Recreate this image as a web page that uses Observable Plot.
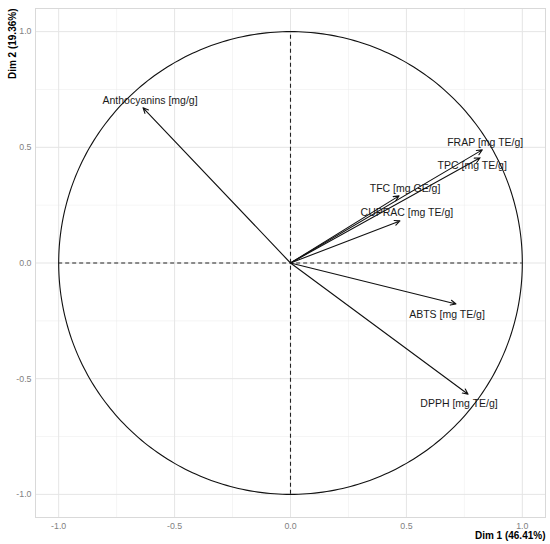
<!DOCTYPE html>
<html><head><meta charset="utf-8">
<script src="https://cdn.jsdelivr.net/npm/d3@7"></script>
<script src="https://cdn.jsdelivr.net/npm/@observablehq/plot@0.6"></script>
<style>body{margin:0;background:#fff;font-family:"Liberation Sans",Arial,sans-serif}</style>
</head><body><div id="chart"></div>
<script>
const variables = ["Anthocyanins [mg/g]","FRAP [mg TE/g]","TPC [mg TE/g]","TFC [mg GE/g]","CUPRAC [mg TE/g]","ABTS [mg TE/g]","DPPH [mg TE/g]"];
const dim1 = [-0.636, 0.827, 0.818, 0.468, 0.472, 0.714, 0.766];
const dim2 = [0.671, 0.489, 0.455, 0.290, 0.182, -0.177, -0.567];
const labelDim1 = [-0.606, 0.84, 0.784, 0.494, 0.502, 0.675, 0.727];
const labelDim2 = [0.701, 0.519, 0.42, 0.32, 0.216, -0.221, -0.606];
const majorTicks = [-1, -0.5, 0, 0.5, 1];
const minorTicks = [-0.75, -0.25, 0.25, 0.75];
const xTitle = "Dim 1 (46.41%)";
const yTitle = "Dim 2 (19.36%)";

const rows = variables.map((v, i) => ({v, x: dim1[i], y: dim2[i], lx: labelDim1[i], ly: labelDim2[i]}));
const circle = d3.range(0, 361).map(a => ({x: Math.cos(a * Math.PI / 180), y: Math.sin(a * Math.PI / 180)}));

const chart = Plot.plot({
  width: 550, height: 544,
  marginLeft: 35, marginRight: 5, marginTop: 8, marginBottom: 27,
  x: {domain: [-1.1, 1.1]},
  y: {domain: [-1.1, 1.1]},
  style: {fontFamily: "Liberation Sans, Arial, sans-serif", background: "#fff"},
  marks: [
    Plot.ruleX(minorTicks, {stroke: "#ebebeb", strokeWidth: 0.5}),
    Plot.ruleY(minorTicks, {stroke: "#ebebeb", strokeWidth: 0.5}),
    Plot.ruleX(majorTicks, {stroke: "#e5e5e5", strokeWidth: 1}),
    Plot.ruleY(majorTicks, {stroke: "#e5e5e5", strokeWidth: 1}),
    Plot.frame({stroke: "#d9d9d9", strokeWidth: 1}),
    Plot.line(circle, {x: "x", y: "y", stroke: "#111", strokeWidth: 1.1}),
    Plot.ruleX([0], {y1: -1, y2: 1, stroke: "#222", strokeDasharray: "4,3", strokeWidth: 1.1}),
    Plot.ruleY([0], {x1: -1, x2: 1, stroke: "#222", strokeDasharray: "4,3", strokeWidth: 1.1}),
    Plot.arrow(rows, {x1: () => 0, y1: () => 0, x2: "x", y2: "y", stroke: "#111", strokeWidth: 1.1, headLength: 8, headAngle: 50}),
    Plot.text(rows, {x: "lx", y: "ly", text: "v", fontSize: 10.5, fill: "#1a1a1a"}),
    Plot.axisX(majorTicks, {tickSize: 0, tickPadding: 5, tickFormat: d => d.toFixed(1), fill: "#7f7f7f", fontSize: 8.8, label: null}),
    Plot.axisY(majorTicks, {tickSize: 0, tickPadding: 4, tickFormat: d => d.toFixed(1), fill: "#7f7f7f", fontSize: 8.8, label: null}),
    Plot.text([xTitle], {frameAnchor: "bottom-right", dy: 21, text: d => d, fontWeight: "bold", fontSize: 10, fill: "#000", textAnchor: "end"}),
    Plot.text([yTitle], {frameAnchor: "top-left", dx: -27, dy: 0, rotate: -90, text: d => d, fontWeight: "bold", fontSize: 10, fill: "#000", textAnchor: "end"})
  ]
});
document.getElementById("chart").append(chart);
</script></body></html>
